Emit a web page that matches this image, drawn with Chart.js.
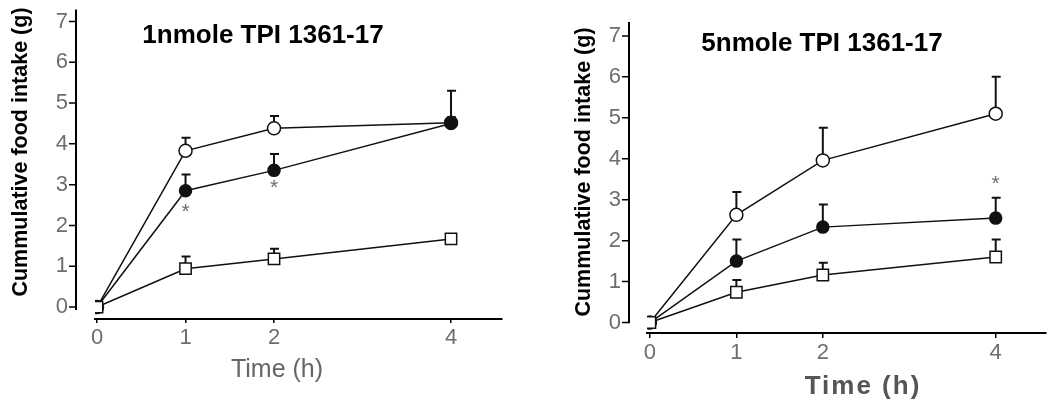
<!DOCTYPE html>
<html>
<head>
<meta charset="utf-8">
<script src="https://cdn.jsdelivr.net/npm/chart.js@4.4.0/dist/chart.umd.min.js"></script>
<style>
  body { margin: 0; background: #fff; width: 1055px; height: 408px; overflow: hidden; position: relative; }
  canvas { position: absolute; top: 0; }
  #lowChart { left: 0; }
  #highChart { left: 555px; }
</style>
</head>
<body>
<canvas id="lowChart" width="540" height="408"></canvas>
<canvas id="highChart" width="500" height="408"></canvas>
<script>
const hours = [0, 1, 2, 4];
const xTickValues = [0, 1, 2, 4];
const yTickValues = [0, 1, 2, 3, 4, 5, 6, 7];

// 1nmole panel
const lowOpen = [0, 3.83, 4.38, 4.52];
const lowFilled = [0, 2.85, 3.35, 4.5];
const lowSquare = [0, 0.94, 1.18, 1.67];
const lowOpenErr = [0, 0.32, 0.3, 0.78];
const lowFilledErr = [0, 0.4, 0.4, 0.15];
const lowSquareErr = [0, 0.3, 0.25, 0.1];
const lowStarHours = [1, 2];
const lowStarValues = [2.45, 3.03];

// 5nmole panel
const highOpen = [0, 2.63, 3.96, 5.1];
const highFilled = [0, 1.5, 2.33, 2.55];
const highSquare = [0, 0.74, 1.16, 1.6];
const highOpenErr = [0, 0.56, 0.8, 0.9];
const highFilledErr = [0, 0.53, 0.55, 0.5];
const highSquareErr = [0, 0.3, 0.3, 0.43];
const highStarHours = [4];
const highStarValues = [3.5];

const FONT = "'Liberation Sans', Arial, sans-serif";
const GRAY = '#6e6e6e';

function points(values) {
  return values.map((v, i) => ({ x: hours[i], y: v }));
}

function makeDatasets(open, filled, square, openErr, filledErr, squareErr) {
  const line = { borderColor: '#111', borderWidth: 1.5, pointBorderColor: '#111', pointBorderWidth: 1.5 };
  return [
    Object.assign({ label: 'Group 1', data: points(square), errors: squareErr,
      pointStyle: 'rect', pointRadius: 8, pointBackgroundColor: '#fff' }, line),
    Object.assign({ label: 'Group 2', data: points(filled), errors: filledErr,
      pointStyle: 'circle', pointRadius: 6, pointBackgroundColor: '#111' }, line),
    Object.assign({ label: 'Group 3', data: points(open), errors: openErr,
      pointStyle: 'circle', pointRadius: 6.5, pointBackgroundColor: '#fff' }, line),
  ];
}

// error bars, offset y axis line, stars and the text around the panel
const extras = {
  id: 'extras',
  beforeDatasetsDraw(chart, args, opts) {
    const { ctx } = chart;
    const xs = chart.scales.x, ys = chart.scales.y;
    ctx.save();
    ctx.strokeStyle = '#111';
    ctx.lineWidth = 2;
    chart.data.datasets.forEach(ds => {
      ds.data.forEach((p, i) => {
        const err = ds.errors[i];
        if (!err) return;
        const px = xs.getPixelForValue(p.x);
        const top = ys.getPixelForValue(p.y + err);
        ctx.beginPath();
        ctx.moveTo(px, ys.getPixelForValue(p.y));
        ctx.lineTo(px, top);
        ctx.moveTo(px - 4, top);
        ctx.lineTo(px + 5, top);
        ctx.stroke();
      });
    });
    ctx.restore();
  },
  afterDraw(chart, args, opts) {
    const { ctx, chartArea } = chart;
    const xs = chart.scales.x, ys = chart.scales.y;
    ctx.save();
    // y axis sits apart from the x axis
    const ax = chartArea.left - opts.axisGap;
    ctx.strokeStyle = '#000';
    ctx.lineWidth = 2;
    ctx.beginPath();
    ctx.moveTo(ax, chartArea.top);
    ctx.lineTo(ax, ys.getPixelForValue(opts.axisEnd));
    ctx.stroke();
    ctx.lineWidth = 1.5;
    ctx.beginPath();
    yTickValues.forEach(v => {
      const py = ys.getPixelForValue(v);
      ctx.moveTo(ax - 7, py);
      ctx.lineTo(ax, py);
    });
    ctx.stroke();

    ctx.textAlign = 'center';
    ctx.textBaseline = 'middle';
    ctx.fillStyle = GRAY;
    ctx.font = '21px ' + FONT;
    opts.starHours.forEach((h, i) => {
      ctx.fillText('*', xs.getPixelForValue(h), ys.getPixelForValue(opts.starValues[i]) + 5);
    });

    ctx.fillStyle = '#000';
    ctx.font = 'bold 26px ' + FONT;
    ctx.fillText(opts.title, opts.titleX, opts.titleY);

    ctx.fillStyle = opts.xTitleColor;
    ctx.font = opts.xTitleFont;
    ctx.letterSpacing = opts.xTitleSpacing;
    ctx.fillText('Time (h)', opts.xTitleX, opts.xTitleY);
    ctx.letterSpacing = '0px';

    ctx.fillStyle = '#000';
    ctx.font = 'bold 21.5px ' + FONT;
    ctx.translate(opts.yTitleX, opts.yTitleY);
    ctx.rotate(-Math.PI / 2);
    ctx.fillText('Cummulative food intake (g)', 0, 0);
    ctx.restore();
  }
};

function makeChart(id, cfg) {
  return new Chart(document.getElementById(id), {
    type: 'line',
    data: { datasets: makeDatasets(...cfg.series) },
    plugins: [extras],
    options: {
      responsive: false,
      animation: false,
      layout: { padding: cfg.padding },
      plugins: {
        legend: { display: false },
        tooltip: { enabled: false },
        extras: cfg.extras
      },
      scales: {
        x: {
          type: 'linear',
          min: cfg.xMin, max: cfg.xMax,
          afterBuildTicks: s => { s.ticks = xTickValues.map(v => ({ value: v })); },
          afterFit: s => { s.height = cfg.xHeight; s.paddingLeft = 0; s.paddingRight = 0; },
          grid: { drawOnChartArea: false, drawTicks: true, tickLength: cfg.xTickLength, color: '#000', lineWidth: 1.5 },
          border: { display: true, color: '#000', width: 2 },
          ticks: { padding: cfg.xTickPad, color: GRAY, font: { size: 22, family: FONT }, maxRotation: 0 }
        },
        y: {
          type: 'linear',
          min: cfg.yMin, max: cfg.yMax,
          afterBuildTicks: s => { s.ticks = yTickValues.map(v => ({ value: v })); },
          afterFit: s => { s.width = cfg.yWidth; s.paddingTop = 0; s.paddingBottom = 0; },
          grid: { display: false, drawTicks: false },
          border: { display: false },
          ticks: { padding: cfg.extras.axisGap + 8, color: GRAY, font: { size: 22, family: FONT } }
        }
      }
    }
  });
}

makeChart('lowChart', {
  series: [lowOpen, lowFilled, lowSquare, lowOpenErr, lowFilledErr, lowSquareErr],
  padding: { left: 0, right: 38, top: 8, bottom: 0 },
  xMin: -0.023, xMax: 4.576, yMin: -0.293, yMax: 7.293,
  xHeight: 89, yWidth: 95, xTickLength: 4, xTickPad: 2,
  extras: {
    axisGap: 19, axisEnd: -0.07,
    starHours: lowStarHours, starValues: lowStarValues,
    title: '1nmole TPI 1361-17', titleX: 263, titleY: 36,
    xTitleX: 277, xTitleY: 370, xTitleColor: '#666', xTitleFont: '25px ' + FONT, xTitleSpacing: '0px',
    yTitleX: 21, yTitleY: 152
  }
});

makeChart('highChart', {
  series: [highOpen, highFilled, highSquare, highOpenErr, highFilledErr, highSquareErr],
  padding: { left: 0, right: 0, top: 22, bottom: 0 },
  xMin: -0.034, xMax: 4.576, yMin: -0.256, yMax: 7.34,
  xHeight: 75, yWidth: 92, xTickLength: 5, xTickPad: 2,
  extras: {
    axisGap: 18, axisEnd: -0.02,
    starHours: highStarHours, starValues: highStarValues,
    title: '5nmole TPI 1361-17', titleX: 267, titleY: 44,
    xTitleX: 308, xTitleY: 387, xTitleColor: '#555', xTitleFont: 'bold 26px ' + FONT, xTitleSpacing: '2px',
    yTitleX: 29, yTitleY: 172
  }
});
</script>
</body>
</html>
